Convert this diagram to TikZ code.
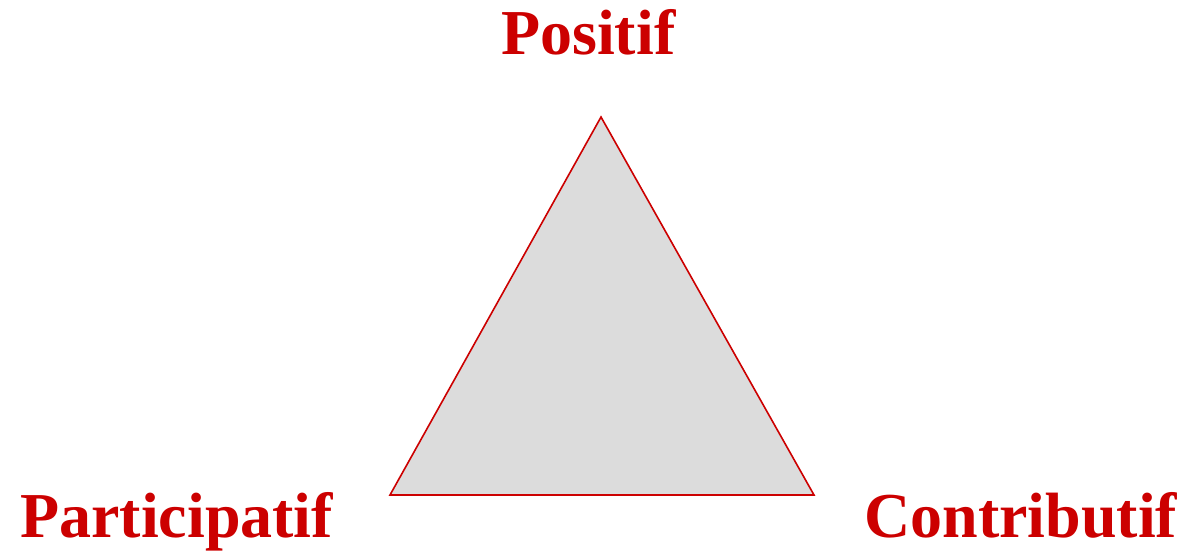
\documentclass[tikz,border=0pt]{standalone}
\usepackage{fontspec}
\setmainfont{Liberation Serif}
\definecolor{lblred}{HTML}{CC0000}
\definecolor{trifill}{HTML}{DCDCDC}
\begin{document}
\begin{tikzpicture}[x=1pt,y=-1pt,
  lbl/.style={text=lblred,font=\fontsize{64}{64}\selectfont\bfseries,inner sep=0pt,anchor=base west},
  tri/.style={draw=lblred,fill=trifill,line width=1.6pt,line join=miter}]
\useasboundingbox (0,0) rectangle (1186,551);
\coordinate (t) at (601,117);
\coordinate (l) at (390,495);
\coordinate (r) at (814,495);
\draw[tri] (t) -- (l) -- (r) -- cycle;
\node[lbl] (pos) at (501,55) {Positif};
\node[lbl] (par) at (20,537) {Participatif};
\node[lbl] (con) at (864,537) {Contributif};
\end{tikzpicture}
\end{document}
